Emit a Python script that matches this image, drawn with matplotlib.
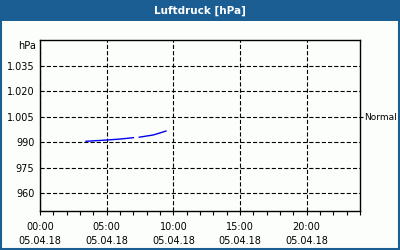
import numpy as np
import matplotlib
matplotlib.use("Agg")
import matplotlib.pyplot as plt
from matplotlib.patches import Rectangle

# Data (hours after 05.04.18 00:00, pressure in hPa)
hours = [3.45, 4.75, 6.0, 7.0, 7.15, 7.45, 8.5, 9.45]
pressure = [990.6, 991.2, 991.9, 992.7, np.nan, 993.0, 994.3, 996.6]

y_ticks = [960, 975, 990, 1005, 1020, 1035]
y_labels = ["960", "975", "990", "1.005", "1.020", "1.035"]
x_major = [0, 5, 10, 15, 20]
x_labels = ["00:00\n05.04.18", "05:00\n05.04.18", "10:00\n05.04.18",
            "15:00\n05.04.18", "20:00\n05.04.18"]
normal_value = 1005
title = "Luftdruck [hPa]"

plt.rcParams['font.family'] = ['DejaVu Sans']
plt.rcParams['lines.scale_dashes'] = False

bg = '#fcfefc'
blue = '#1b5e93'

fig = plt.figure(figsize=(4, 2.5), dpi=100, facecolor=bg)
# title bar
fig.patches.append(Rectangle((0, 0.918), 1, 0.082, transform=fig.transFigure,
                             facecolor=blue, edgecolor='none', zorder=0))
# border
fig.patches.append(Rectangle((0.0025, 0.004), 0.995, 0.99, transform=fig.transFigure,
                             facecolor='none', edgecolor=blue, linewidth=1.5, zorder=0))
fig.text(0.5, 0.958, title, color='white', fontsize=7.5, fontweight='bold',
         ha='center', va='center')

ax = fig.add_axes([0.1, 0.158, 0.8, 0.682])
ax.set_facecolor(bg)
ax.plot(hours, pressure, color='#0000ee', lw=1.0, zorder=3)
ax.set_xlim(0, 24)
ax.set_ylim(950, 1050)
ax.set_yticks(y_ticks)
ax.set_yticklabels(y_labels)
ax.set_xticks(x_major)
ax.set_xticklabels(x_labels, linespacing=1.55)
ax.set_xticks(np.arange(0, 25, 1), minor=True)
ax.tick_params(axis='y', length=0, pad=4, labelsize=7, colors='black')
ax.tick_params(axis='x', which='both', length=3, width=0.8, direction='out',
               pad=5, labelsize=7, colors='black')
ax.grid(True, which='major', color='black', linestyle=(0, (3, 1.5)), lw=0.8)
for s in ax.spines.values():
    s.set_linewidth(1.0)
    s.set_color('black')

ax2 = ax.twinx()
ax2.set_ylim(950, 1050)
ax2.set_yticks([normal_value])
ax2.set_yticklabels(["Normal"])
ax2.tick_params(axis='y', length=2.5, width=0.8, pad=0.5, labelsize=6.5)
for s in ax2.spines.values():
    s.set_visible(False)

fig.text(36/400, 1 - 46/250, "hPa", fontsize=7, ha='right', va='center')

fig.savefig("out.png", dpi=100, facecolor=bg)
